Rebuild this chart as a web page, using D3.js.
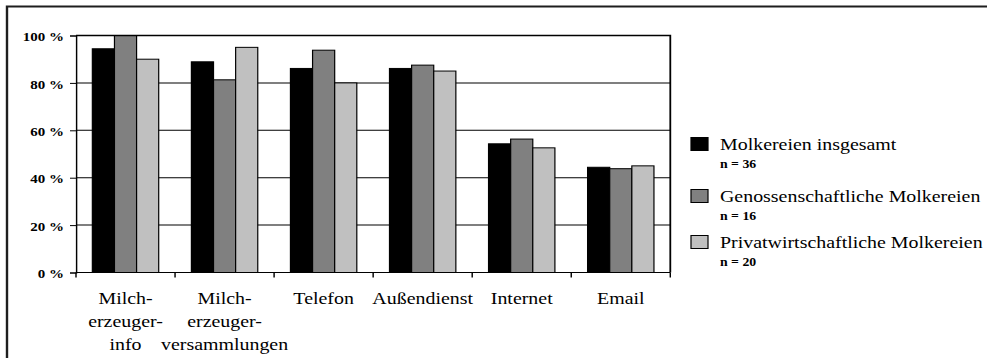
<!DOCTYPE html>
<html>
<head>
<meta charset="utf-8">
<script src="https://cdn.jsdelivr.net/npm/d3@7"></script>
<style>
  html, body { margin: 0; padding: 0; background: #fff; }
  svg { display: block; }
  text { font-family: "Liberation Serif", "Times New Roman", Tinos, "Nimbus Roman", serif; fill: #000; }
</style>
</head>
<body>
<div id="chart"></div>
<script>
// Informationsquellen der Molkereien (Anteil der Nennungen in %)
const categories = ["Milch-\nerzeuger-\ninfo", "Milch-\nerzeuger-\nversammlungen", "Telefon", "Außendienst", "Internet", "Email"];
const seriesNames = ["Molkereien insgesamt", "Genossenschaftliche Molkereien", "Privatwirtschaftliche Molkereien"];
const sampleSizes = ["n = 36", "n = 16", "n = 20"];
const insgesamt = [94.4, 88.9, 86.1, 86.1, 54.3, 44.4];
const genossenschaftlich = [100, 81.3, 93.8, 87.5, 56.3, 43.8];
const privatwirtschaftlich = [90, 95, 80, 85, 52.6, 45];
const yTickValues = [0, 20, 40, 60, 80, 100];
const yTickLabels = ["0 %", "20 %", "40 %", "60 %", "80 %", "100 %"];
const seriesColors = ["#000000", "#808080", "#c0c0c0"];

const seriesValues = [insgesamt, genossenschaftlich, privatwirtschaftlich];

// The drawing is laid out in a narrower user space and stretched sideways.
const WIDTH = 987, HEIGHT = 358, SX = 1.2;
const VW = WIDTH / SX;

const svg = d3.select("#chart").append("svg")
  .attr("width", WIDTH).attr("height", HEIGHT)
  .attr("viewBox", `0 0 ${VW} ${HEIGHT}`)
  .attr("preserveAspectRatio", "none");

const plot = { left: 76 / SX, right: 670.3 / SX, top: 35.5, bottom: 272.5 };

// outer frame
svg.append("rect")
  .attr("x", 7 / SX).attr("y", 6.5)
  .attr("width", VW + 20).attr("height", HEIGHT + 20)
  .attr("fill", "none").attr("stroke", "#1e1e1e").attr("stroke-width", 2);

const x0 = d3.scaleBand().domain(d3.range(categories.length))
  .range([plot.left, plot.right]).padding(0);
const bw = x0.bandwidth();
const x1 = d3.scaleBand().domain(d3.range(seriesNames.length))
  .range([bw * 0.165, bw * 0.835]).padding(0);
const y = d3.scaleLinear().domain([0, 100]).range([plot.bottom, plot.top]);

// gridlines
svg.append("g").selectAll("line")
  .data(yTickValues.filter(v => v > 0 && v < 100))
  .join("line")
  .attr("x1", plot.left).attr("x2", plot.right)
  .attr("y1", d => y(d)).attr("y2", d => y(d))
  .attr("stroke", "#000").attr("stroke-width", 1);

// bars
const groups = svg.append("g").selectAll("g")
  .data(categories.map((c, i) => i))
  .join("g")
  .attr("transform", i => `translate(${x0(i)},0)`);

groups.selectAll("rect")
  .data(i => seriesValues.map((vals, s) => ({ s, v: vals[i] })))
  .join("rect")
  .attr("x", d => x1(d.s))
  .attr("width", x1.bandwidth())
  .attr("y", d => y(d.v))
  .attr("height", d => y(0) - y(d.v))
  .attr("fill", d => seriesColors[d.s])
  .attr("stroke", "#000").attr("stroke-width", 1);

// plot border (top and right)
svg.append("path")
  .attr("d", `M${plot.left},${plot.top}H${plot.right}V${plot.bottom}`)
  .attr("fill", "none").attr("stroke", "#000").attr("stroke-width", 1.5);

// y axis
const yAxis = svg.append("g")
  .attr("transform", `translate(${plot.left},0)`)
  .call(d3.axisLeft(y).tickValues(yTickValues)
    .tickFormat((d, i) => yTickLabels[i])
    .tickSize(6 / SX).tickPadding(5));
yAxis.attr("font-family", null);
yAxis.select(".domain").attr("stroke", "#000").attr("stroke-width", 1.2);
yAxis.selectAll(".tick line").attr("stroke", "#000");
yAxis.selectAll(".tick text")
  .attr("font-size", 12.5).attr("font-weight", "bold")
  .attr("dy", "0.42em");

// x axis: baseline, ticks between categories, wrapped labels
const xAxis = svg.append("g");
xAxis.append("line")
  .attr("x1", plot.left).attr("x2", plot.right)
  .attr("y1", plot.bottom).attr("y2", plot.bottom)
  .attr("stroke", "#000").attr("stroke-width", 1.2);
const boundaries = categories.map((c, i) => x0(i)).concat([plot.right]);
xAxis.selectAll("line.tick")
  .data(boundaries)
  .join("line").attr("class", "tick")
  .attr("x1", d => d).attr("x2", d => d)
  .attr("y1", plot.bottom).attr("y2", plot.bottom + 5)
  .attr("stroke", "#000").attr("stroke-width", 1.2);

const catLabels = xAxis.selectAll("text")
  .data(categories)
  .join("text")
  .attr("text-anchor", "middle")
  .attr("font-size", 16.6)
  .attr("y", plot.bottom + 31.5);
catLabels.selectAll("tspan")
  .data((c, i) => c.split("\n").map(t => ({ t, i })))
  .join("tspan")
  .attr("x", d => x0(d.i) + bw / 2)
  .attr("dy", (d, j) => j === 0 ? 0 : 23)
  .text(d => d.t);

// legend
const legendOffsets = [0, 52, 98];
const legend = svg.append("g");
const legendRows = legend.selectAll("g")
  .data(seriesNames)
  .join("g")
  .attr("transform", (d, i) => `translate(${691 / SX},${137.5 + legendOffsets[i]})`);
legendRows.append("rect")
  .attr("width", 17 / SX).attr("height", 13)
  .attr("fill", (d, i) => seriesColors[i])
  .attr("stroke", "#000").attr("stroke-width", 1);
legendRows.append("text")
  .attr("x", 29 / SX).attr("y", 12.5)
  .attr("font-size", 16.6)
  .text(d => d);
legendRows.append("text")
  .attr("x", 29 / SX).attr("y", 31)
  .attr("font-size", 11.5).attr("font-weight", "bold")
  .text((d, i) => sampleSizes[i]);
</script>
</body>
</html>
